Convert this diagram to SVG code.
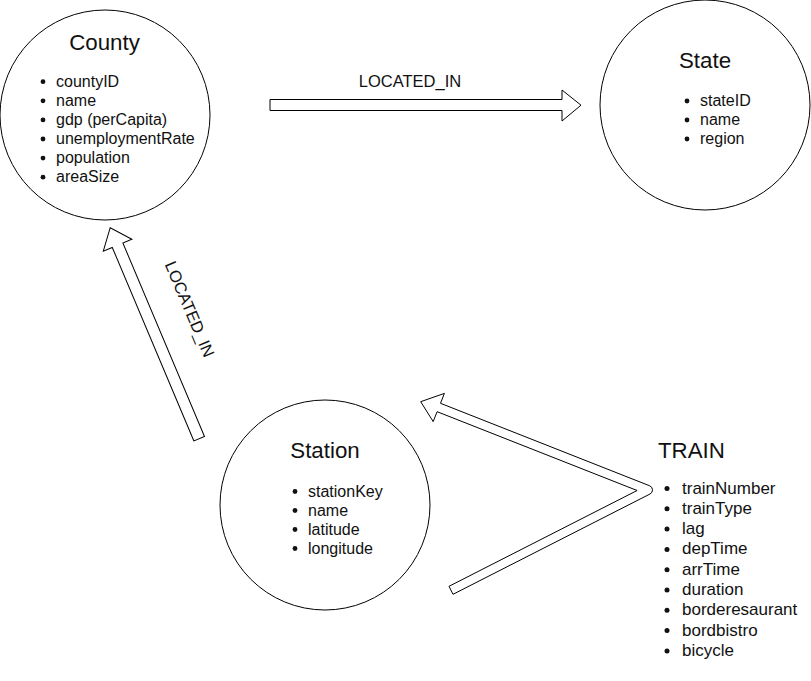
<svg xmlns="http://www.w3.org/2000/svg" width="811" height="681" viewBox="0 0 811 681">
<style>
.node{fill:#fff;stroke:#000;stroke-width:1}
.arr{fill:#fff;stroke:#000;stroke-width:1;stroke-linejoin:miter}
text{font-family:"Liberation Sans",Arial,Helvetica,sans-serif;fill:#111}
.title{font-size:22.3px}
.item{font-size:16px}
.titem{font-size:17px}
.lbl{font-size:16.5px}
.b{fill:#111}
</style>
<rect width="811" height="681" fill="#fff"/>
<g id="connectors">
  <polygon class="arr" points="270,99.5 562,99.5 562,90 581,105.2 562,121 562,110.5 270,110.5"/>
  <text class="lbl" x="410" y="87" text-anchor="middle">LOCATED_IN</text>
  <polygon class="arr" transform="translate(199.2,438.7) rotate(-112.87)" points="0,-5.75 210,-5.75 210,-15.5 229,0 210,15.5 210,5.75 0,5.75"/>
  <text class="lbl" transform="translate(190,309) rotate(67)" x="0" y="6" text-anchor="middle">LOCATED_IN</text>
  <path class="arr" d="M453,594.3 L650,494 A4.5,4.5 0 0 0 649.7,485.8 L440.5,403.3 L444.4,393.4 L420.7,401.7 L433.2,421.6 L437.1,411.7 L637.1,490.5 L449,586.3 Z"/>
</g>
<g id="county">
  <circle class="node" cx="105" cy="115" r="105"/>
  <text class="title" x="104.5" y="49.5" text-anchor="middle">County</text>
  <circle class="b" cx="43" cy="81.7" r="2.4"/><text class="item" x="56" y="86.7">countyID</text>
  <circle class="b" cx="43" cy="100.8" r="2.4"/><text class="item" x="56" y="105.8">name</text>
  <circle class="b" cx="43" cy="119.9" r="2.4"/><text class="item" x="56" y="124.9">gdp (perCapita)</text>
  <circle class="b" cx="43" cy="139" r="2.4"/><text class="item" x="56" y="144">unemploymentRate</text>
  <circle class="b" cx="43" cy="158.1" r="2.4"/><text class="item" x="56" y="163.1">population</text>
  <circle class="b" cx="43" cy="177.2" r="2.4"/><text class="item" x="56" y="182.2">areaSize</text>
</g>
<g id="state">
  <circle class="node" cx="705" cy="105" r="105"/>
  <text class="title" x="705" y="67.5" text-anchor="middle">State</text>
  <circle class="b" cx="687" cy="101" r="2.4"/><text class="item" x="700" y="106">stateID</text>
  <circle class="b" cx="687" cy="120" r="2.4"/><text class="item" x="700" y="125">name</text>
  <circle class="b" cx="687" cy="139" r="2.4"/><text class="item" x="700" y="144">region</text>
</g>
<g id="station">
  <circle class="node" cx="325" cy="505" r="105"/>
  <text class="title" x="325" y="458" text-anchor="middle">Station</text>
  <circle class="b" cx="295" cy="491.5" r="2.4"/><text class="item" x="308" y="496.5">stationKey</text>
  <circle class="b" cx="295" cy="510.5" r="2.4"/><text class="item" x="308" y="515.5">name</text>
  <circle class="b" cx="295" cy="529.5" r="2.4"/><text class="item" x="308" y="534.5">latitude</text>
  <circle class="b" cx="295" cy="548.5" r="2.4"/><text class="item" x="308" y="553.5">longitude</text>
</g>
<g id="train">
  <text class="title" x="658" y="458">TRAIN</text>
  <circle class="b" cx="667" cy="488.5" r="2.5"/><text class="titem" x="682" y="493.5">trainNumber</text>
  <circle class="b" cx="667" cy="508.8" r="2.5"/><text class="titem" x="682" y="513.8">trainType</text>
  <circle class="b" cx="667" cy="529.1" r="2.5"/><text class="titem" x="682" y="534.1">lag</text>
  <circle class="b" cx="667" cy="549.4" r="2.5"/><text class="titem" x="682" y="554.4">depTime</text>
  <circle class="b" cx="667" cy="569.7" r="2.5"/><text class="titem" x="682" y="574.7">arrTime</text>
  <circle class="b" cx="667" cy="590" r="2.5"/><text class="titem" x="682" y="595">duration</text>
  <circle class="b" cx="667" cy="610.3" r="2.5"/><text class="titem" x="682" y="615.3">borderesaurant</text>
  <circle class="b" cx="667" cy="630.6" r="2.5"/><text class="titem" x="682" y="635.6">bordbistro</text>
  <circle class="b" cx="667" cy="650.9" r="2.5"/><text class="titem" x="682" y="655.9">bicycle</text>
</g>
</svg>
